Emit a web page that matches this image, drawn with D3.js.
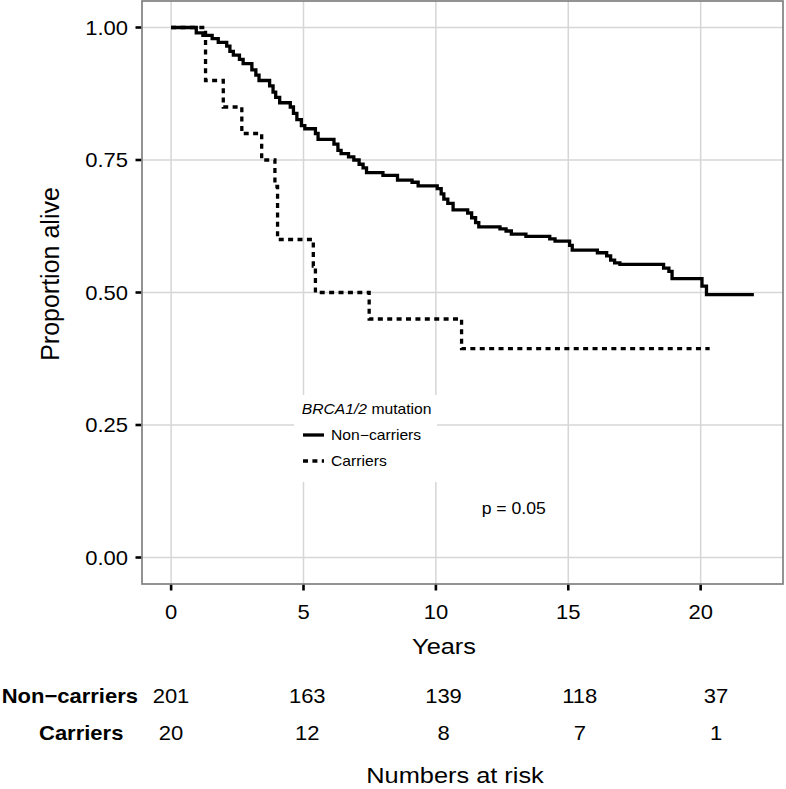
<!DOCTYPE html>
<html>
<head>
<meta charset="utf-8">
<script src="https://cdn.jsdelivr.net/npm/d3@7"></script>
<style>
  html, body { margin: 0; padding: 0; background: #fff; }
  svg { display: block; font-family: "Liberation Sans", Arial, Helvetica, sans-serif; }
</style>
</head>
<body>
<svg id="chart" width="786" height="789"></svg>
<script>
// ---------------- data ----------------
const nonCarrierTimes = [0, 0.95, 1.20, 1.55, 1.78, 2.10, 2.22, 2.35, 2.58, 2.72, 3.05, 3.20, 3.32, 3.72, 3.85, 3.95, 4.10, 4.50, 4.62, 4.75, 4.92, 5.05, 5.45, 5.55, 6.15, 6.30, 6.42, 6.70, 6.90, 7.10, 7.25, 7.38, 8.00, 8.55, 9.10, 9.33, 10.05, 10.20, 10.30, 10.45, 10.65, 11.20, 11.35, 11.50, 11.62, 12.42, 12.65, 12.85, 13.40, 14.30, 14.50, 15.05, 15.15, 16.10, 16.45, 16.60, 16.75, 16.95, 18.60, 18.80, 18.92, 20.05, 20.22, 22.01];
const nonCarrierSurv  = [1.000, 0.990, 0.985, 0.979, 0.972, 0.965, 0.955, 0.948, 0.940, 0.932, 0.920, 0.910, 0.900, 0.890, 0.878, 0.868, 0.858, 0.850, 0.838, 0.826, 0.815, 0.809, 0.800, 0.789, 0.780, 0.768, 0.762, 0.756, 0.750, 0.742, 0.735, 0.726, 0.721, 0.712, 0.708, 0.701, 0.696, 0.686, 0.676, 0.668, 0.656, 0.650, 0.641, 0.632, 0.624, 0.620, 0.616, 0.610, 0.606, 0.601, 0.597, 0.589, 0.580, 0.575, 0.569, 0.561, 0.556, 0.553, 0.546, 0.540, 0.526, 0.512, 0.496, 0.496];

const carrierTimes = [0, 1.30, 1.97, 2.67, 3.42, 3.92, 4.02, 5.37, 5.45, 7.48, 10.97, 20.34];
const carrierSurv  = [1.00, 0.90, 0.85, 0.80, 0.75, 0.70, 0.60, 0.55, 0.50, 0.45, 0.394, 0.394];

const xTicks = [0, 5, 10, 15, 20];
const yTicks = [0, 0.25, 0.50, 0.75, 1.00];

const riskGroups = ["Non\u2212carriers", "Carriers"];
const riskTimes = [0, 5, 10, 15, 20];
const riskNonCarriers = [201, 163, 139, 118, 37];
const riskCarriers = [20, 12, 8, 7, 1];

const legendTitleItalic = "BRCA1/2";
const legendTitleRest = " mutation";
const legendLabels = ["Non\u2212carriers", "Carriers"];
const pValueText = "p = 0.05";

// ---------------- layout ----------------
const svg = d3.select("#chart");
const panel = { left: 142, right: 783, top: 1, bottom: 584 };

const x = d3.scaleLinear().domain([-1.1, 23.11]).range([panel.left, panel.right]);
const y = d3.scaleLinear().domain([-0.05, 1.05]).range([panel.bottom, panel.top]);
const xRisk = d3.scaleLinear().domain([0, 20]).range([171, 716]);

function txt(parent, px, py, str, opt) {
  const o = Object.assign({ size: 20, anchor: "start", weight: "normal", sx: 1.1, fill: "#000" }, opt || {});
  return parent.append("text")
    .attr("transform", `translate(${px},${py}) scale(${o.sx},1)`)
    .attr("text-anchor", o.anchor)
    .attr("font-size", o.size)
    .attr("font-weight", o.weight)
    .attr("fill", o.fill)
    .text(str);
}

// panel background
svg.append("rect")
  .attr("x", panel.left).attr("y", panel.top)
  .attr("width", panel.right - panel.left).attr("height", panel.bottom - panel.top)
  .attr("fill", "#fff");

// grid
const grid = svg.append("g").attr("stroke", "#d6d6d6").attr("stroke-width", 1.5);
grid.selectAll("line.v").data(xTicks).join("line")
  .attr("x1", d => x(d)).attr("x2", d => x(d))
  .attr("y1", panel.top).attr("y2", panel.bottom);
grid.selectAll("line.h").data(yTicks).join("line")
  .attr("x1", panel.left).attr("x2", panel.right)
  .attr("y1", d => y(d)).attr("y2", d => y(d));

// legend background (covers grid)
const legend = { x: 294, y: 395, w: 143, h: 87 };
svg.append("rect")
  .attr("x", legend.x).attr("y", legend.y)
  .attr("width", legend.w).attr("height", legend.h)
  .attr("fill", "#fff");

// curves
const line = d3.line()
  .x(d => x(d[0])).y(d => y(d[1]))
  .curve(d3.curveStepAfter);

const nonData = nonCarrierTimes.map((t, i) => [t, nonCarrierSurv[i]]);
const carData = carrierTimes.map((t, i) => [t, carrierSurv[i]]);

svg.append("path").datum(carData)
  .attr("d", line)
  .attr("fill", "none").attr("stroke", "#000")
  .attr("stroke-width", 3.3).attr("stroke-dasharray", "5,4.4");

svg.append("path").datum(nonData)
  .attr("d", line)
  .attr("fill", "none").attr("stroke", "#000")
  .attr("stroke-width", 3.3).attr("stroke-linejoin", "miter");

// panel border
svg.append("rect")
  .attr("x", panel.left).attr("y", panel.top)
  .attr("width", panel.right - panel.left).attr("height", panel.bottom - panel.top)
  .attr("fill", "none").attr("stroke", "#808080").attr("stroke-width", 1.7);

// ticks
const ticks = svg.append("g").attr("stroke", "#000").attr("stroke-width", 2.6);
ticks.selectAll("line.yt").data(yTicks).join("line")
  .attr("x1", panel.left - 6.5).attr("x2", panel.left - 0.8)
  .attr("y1", d => y(d)).attr("y2", d => y(d));
ticks.selectAll("line.xt").data(xTicks).join("line")
  .attr("x1", d => x(d)).attr("x2", d => x(d))
  .attr("y1", panel.bottom + 0.8).attr("y2", panel.bottom + 6.5);

// tick labels
yTicks.forEach(v => {
  txt(svg, 128, y(v) + 7.2, d3.format(".2f")(v), { size: 20, anchor: "end", sx: 1.1 });
});
xTicks.forEach(v => {
  txt(svg, x(v), 619, String(v), { size: 20, anchor: "middle", sx: 1.1 });
});

// axis titles
txt(svg, 444, 654, "Years", { size: 21.5, anchor: "middle", sx: 1.18 });
svg.append("text")
  .attr("transform", `translate(59,274) rotate(-90)`)
  .attr("text-anchor", "middle")
  .attr("font-size", 25)
  .text("Proportion alive");

// legend contents
const lt = svg.append("text")
  .attr("transform", `translate(301.7,414) scale(1.12,1)`)
  .attr("font-size", 14);
lt.append("tspan").attr("font-style", "italic").text(legendTitleItalic);
lt.append("tspan").text(legendTitleRest);

const keyY = [435, 461];
svg.append("line")
  .attr("x1", 303).attr("x2", 324).attr("y1", keyY[0]).attr("y2", keyY[0])
  .attr("stroke", "#000").attr("stroke-width", 3.3);
svg.append("line")
  .attr("x1", 303).attr("x2", 324).attr("y1", keyY[1]).attr("y2", keyY[1])
  .attr("stroke", "#000").attr("stroke-width", 3.3).attr("stroke-dasharray", "5,4.4");
legendLabels.forEach((lab, i) => {
  txt(svg, 331, keyY[i] + 5.3, lab, { size: 14, sx: 1.12 });
});

// p value
txt(svg, 481.7, 514, pValueText, { size: 16, sx: 1.1 });

// risk table
const riskRows = [riskNonCarriers, riskCarriers];
const rowY = [703, 740];
const labelX = [1.7, 39];
riskGroups.forEach((g, i) => {
  txt(svg, labelX[i], rowY[i], g, { size: 20, weight: "bold", sx: 1.1 });
  riskTimes.forEach((t, j) => {
    txt(svg, xRisk(t), rowY[i], String(riskRows[i][j]), { size: 20, anchor: "middle", sx: 1.1 });
  });
});
txt(svg, 455, 783, "Numbers at risk", { size: 21.5, anchor: "middle", sx: 1.18 });
</script>
</body>
</html>
